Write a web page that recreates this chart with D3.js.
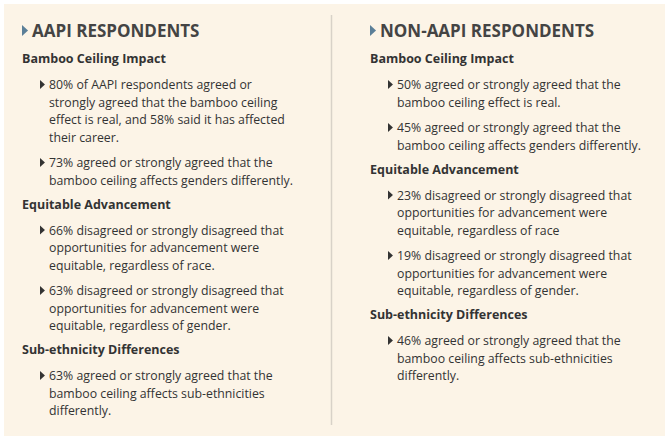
<!DOCTYPE html>
<html><head><meta charset="utf-8">
<script src="https://cdn.jsdelivr.net/npm/d3@7"></script>
<style>body{margin:0;background:#fff}svg{display:block;font-family:"Open Sans",sans-serif}</style>
</head><body><svg id="c" width="669" height="440"></svg>
<script>
// column titles
const titles = ["AAPI RESPONDENTS", "NON-AAPI RESPONDENTS"];

// each section: heading + bullets (pre-broken lines, as in the picture)
const aapiSections = [
  { head: "Bamboo Ceiling Impact", bullets: [
    ["80% of AAPI respondents agreed or", "strongly agreed that the bamboo ceiling", "effect is real, and 58% said it has affected", "their career."],
    ["73% agreed or strongly agreed that the", "bamboo ceiling affects genders differently."]
  ]},
  { head: "Equitable Advancement", bullets: [
    ["66% disagreed or strongly disagreed that", "opportunities for advancement were", "equitable, regardless of race."],
    ["63% disagreed or strongly disagreed that", "opportunities for advancement were", "equitable, regardless of gender."]
  ]},
  { head: "Sub-ethnicity Differences", bullets: [
    ["63% agreed or strongly agreed that the", "bamboo ceiling affects sub-ethnicities", "differently."]
  ]}
];
const nonAapiSections = [
  { head: "Bamboo Ceiling Impact", bullets: [
    ["50% agreed or strongly agreed that the", "bamboo ceiling effect is real."],
    ["45% agreed or strongly agreed that the", "bamboo ceiling affects genders differently."]
  ]},
  { head: "Equitable Advancement", bullets: [
    ["23% disagreed or strongly disagreed that", "opportunities for advancement were", "equitable, regardless of race"],
    ["19% disagreed or strongly disagreed that", "opportunities for advancement were", "equitable, regardless of gender."]
  ]},
  { head: "Sub-ethnicity Differences", bullets: [
    ["46% agreed or strongly agreed that the", "bamboo ceiling affects sub-ethnicities", "differently."]
  ]}
];

const svg = d3.select("#c");
svg.append("rect").attr("x", 4).attr("y", 4).attr("width", 661).attr("height", 432).attr("fill", "#fcf4e7");
svg.append("line").attr("x1", 331.5).attr("x2", 331.5).attr("y1", 15).attr("y2", 425)
  .attr("stroke", "#d8d2c8").attr("stroke-width", 1.5);

const arrowColor = "#5b7f98", textColor = "#333", headColor = "#444";
const LH = 17.5;

function tri(g, x, y, h, col) {
  g.append("path").attr("d", `M${x},${y - h / 2}L${x + h * 0.55},${y}L${x},${y + h / 2}Z`).attr("fill", col);
}

function column(x0, title, sections) {
  const g = svg.append("g");
  tri(g, x0, 30.5, 11, arrowColor);
  g.append("text").attr("x", x0 + 10).attr("y", 37).attr("font-size", 17).attr("font-weight", 700)
    .attr("fill", headColor).text(title);
  let y = 63;
  sections.forEach((s, si) => {
    if (si > 0) y += 24;
    g.append("text").attr("x", x0).attr("y", y).attr("font-size", 12.5).attr("font-weight", 700)
      .attr("fill", textColor).text(s.head);
    y += 26;
    s.bullets.forEach((b, bi) => {
      if (bi > 0) y += 8;
      tri(g, x0 + 18, y - 4.5, 9, textColor);
      const t = g.append("text").attr("x", x0 + 27).attr("y", y).attr("font-size", 12.3).attr("fill", textColor);
      b.forEach((line, li) => {
        t.append("tspan").attr("x", x0 + 27).attr("y", y + li * LH).text(line);
      });
      y += (b.length - 1) * LH + LH;
    });
    y -= LH;
  });
}

column(22, titles[0], aapiSections);
column(370, titles[1], nonAapiSections);
</script></body></html>
